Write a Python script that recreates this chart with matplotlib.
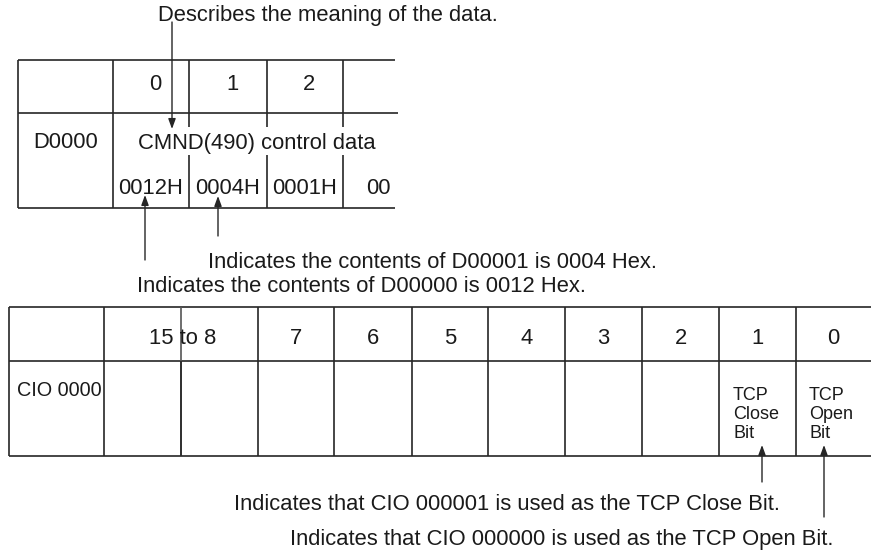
import matplotlib
matplotlib.use('Agg')
from matplotlib import pyplot as plt

plt.rcParams['font.family'] = ['Liberation Sans', 'DejaVu Sans']

# top table contents
word_cols = ['0', '1', '2']
row_label = 'D0000'
meaning = 'CMND(490) control data'
hex_values = ['0012H', '0004H', '0001H', '00']

# bottom table contents
bit_cols = ['15 to 8', '7', '6', '5', '4', '3', '2', '1', '0']
cio_label = 'CIO 0000'
close_note = ['TCP', 'Close', 'Bit']
open_note = ['TCP', 'Open', 'Bit']

top_note = 'Describes the meaning of the data.'
note_d1 = 'Indicates the contents of D00001 is 0004 Hex.'
note_d0 = 'Indicates the contents of D00000 is 0012 Hex.'
note_close = 'Indicates that CIO 000001 is used as the TCP Close Bit.'
note_open = 'Indicates that CIO 000000 is used as the TCP Open Bit.'

fig = plt.figure(figsize=(8.71, 5.54), dpi=100)
ax = fig.add_axes([0, 0, 1, 1])
ax.set_xlim(0, 871)
ax.set_ylim(554, 0)
ax.axis('off')

lc = '#262626'
tc = '#1a1a1a'
fs = 15.8
lw = 1.2
dy = 2  # center of bbox sits a bit above the caps


def hline(y, x0, x1, c=lc):
    ax.plot([x0, x1], [y, y], color=c, lw=lw, solid_capstyle='butt')


def vline(x, y0, y1, c=lc):
    ax.plot([x, x], [y0, y1], color=c, lw=lw, solid_capstyle='butt')


def label(x, y, s, ha='left', size=fs):
    ax.text(x, y + dy, s, ha=ha, va='center', fontsize=size, color=tc)


def arrow(x, y_tail, y_tip):
    ax.annotate('', xy=(x, y_tip), xytext=(x, y_tail),
                arrowprops=dict(arrowstyle='-|>,head_length=0.6,head_width=0.22',
                                color=lc, lw=1.0, shrinkA=0, shrinkB=0))


# ---- top table
hline(60, 18, 395)
hline(113, 18, 398)
hline(208, 18, 395)
vline(18, 60, 208)
vline(113, 60, 208)
col_x = [113, 189, 267, 343]
for x in col_x[1:]:
    vline(x, 60, 127)
    vline(x, 155, 208)

for i, lab in enumerate(word_cols):
    cx = (col_x[i] + col_x[i + 1]) / 2 + 4
    label(cx, 83, lab, ha='center')

label(66, 141, row_label, ha='center')
label(138, 141, meaning)
hex_x = [151, 228, 305, 378]
for x, v in zip(hex_x, hex_values):
    label(x, 186, v, ha='center')

label(158, 14, top_note)
arrow(172, 22, 129)
arrow(145, 260, 195)
arrow(218, 236, 196)
label(208, 261, note_d1)
label(137, 285, note_d0)

# ---- bottom table
hline(307, 9, 871)
hline(361, 9, 871)
hline(456, 9, 871)
bit_x = [104, 258, 334, 412, 488, 565, 642, 719, 796, 871]
vline(9, 307, 456)
vline(181, 307, 456, c='#555555')
vline(181, 361, 456)
for x in bit_x[:-1]:
    vline(x, 307, 456)

for i, lab in enumerate(bit_cols):
    cx = (bit_x[i] + bit_x[i + 1]) / 2
    if i == 0:
        cx += 2
    label(cx, 337, lab, ha='center')

label(17, 388, cio_label, size=fs - 1.5)

for x0, lines in [(733, close_note), (809, open_note)]:
    for k, s in enumerate(lines):
        label(x0, 394 + k * 18.5, s, size=13)

arrow(762, 482, 445)
arrow(824, 517, 445)
label(234, 502, note_close)
label(290, 537, note_open)

fig.savefig('out.png', dpi=100)
